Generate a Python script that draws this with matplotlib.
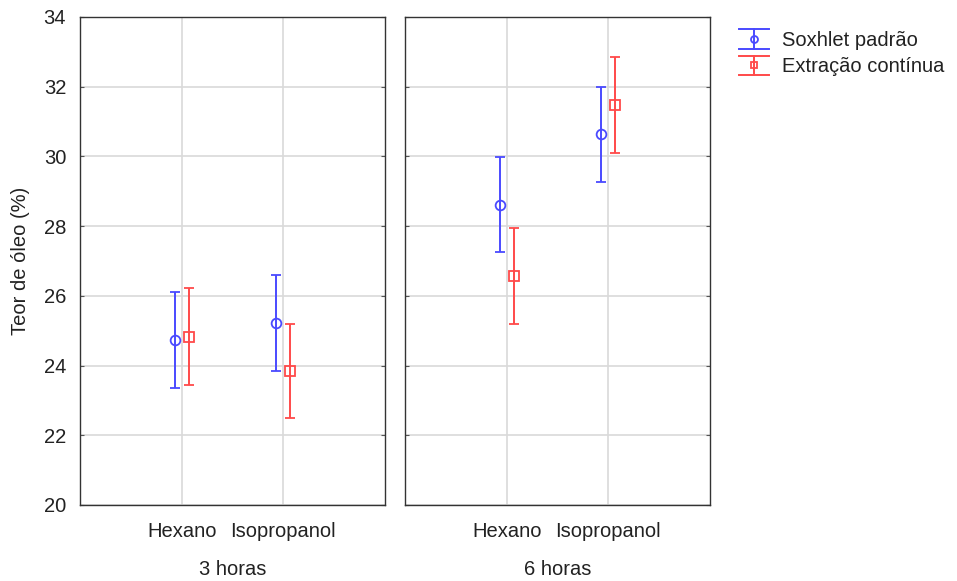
import matplotlib
matplotlib.use("Agg")
import matplotlib.pyplot as plt
from matplotlib.legend_handler import HandlerBase
from matplotlib.container import ErrorbarContainer
from matplotlib.lines import Line2D
import numpy as np

plt.rcParams['font.family'] = ['Liberation Sans', 'DejaVu Sans']

panels = ["3 horas", "6 horas"]
solvents = ["Hexano", "Isopropanol"]
series = ["Soxhlet padrão", "Extração contínua"]
# values[panel][solvent]
soxhlet_mean = [[24.73, 25.23], [28.62, 30.64]]
soxhlet_err = [[1.37, 1.38], [1.36, 1.36]]
continua_mean = [[24.83, 23.84], [26.58, 31.47]]
continua_err = [[1.40, 1.35], [1.38, 1.37]]

colors = ["#4a4aff", "#ff4a4a"]
markers = ["o", "s"]
offsets = [-0.07, 0.07]
FS = 14.5


class HandlerEB(HandlerBase):
    def create_artists(self, legend, orig_handle, xdescent, ydescent, width, height, fontsize, trans):
        line = orig_handle.lines[0]
        c = line.get_color()
        mk = line.get_marker()
        cx = width / 2 - xdescent
        cy = height / 2 - ydescent
        hh = height * 0.68
        arts = [
            Line2D([cx, cx], [cy - hh, cy + hh], color=c, lw=1.4),
            Line2D([-xdescent, width - xdescent], [cy - hh, cy - hh], color=c, lw=1.4),
            Line2D([-xdescent, width - xdescent], [cy + hh, cy + hh], color=c, lw=1.4),
            Line2D([cx], [cy], marker=mk, color=c, mfc='none', mec=c, ms=5, mew=1.3, ls='none'),
        ]
        for a in arts:
            a.set_transform(trans)
        return arts


fig = plt.figure(figsize=(9.57, 5.81), dpi=100)
W, H = 957, 581
axes = []
lefts = [80, 405]
for i in range(2):
    ax = fig.add_axes([lefts[i] / W, (H - 505) / H, 305 / W, 488 / H])
    axes.append(ax)

for i, ax in enumerate(axes):
    x = np.arange(len(solvents))
    handles = []
    for s, (m, e) in enumerate([(soxhlet_mean, soxhlet_err), (continua_mean, continua_err)]):
        h = ax.errorbar(x + offsets[s], m[i], yerr=e[i], fmt=markers[s], color=colors[s],
                        mfc='none', mec=colors[s], ms=7, mew=1.3, elinewidth=1.4,
                        capsize=3.7, capthick=1.4, label=series[s], zorder=3)
        handles.append(h)
    ax.set_xlim(-1, 2)
    ax.set_ylim(20, 34)
    ax.set_yticks(np.arange(20, 35, 2))
    ax.set_xticks(x)
    ax.set_xticklabels(solvents, fontsize=FS)
    ax.grid(True, color="#d9d9d9", linewidth=1.2)
    ax.set_axisbelow(True)
    ax.tick_params(axis='y', direction='in', length=3, width=0.8, color="#555555",
                   pad=10, labelsize=FS, labelcolor="#222222", left=True, right=True)
    ax.tick_params(axis='x', length=0, pad=12, labelsize=FS, labelcolor="#222222")
    for sp in ax.spines.values():
        sp.set_color("#333333")
        sp.set_linewidth(1.0)
    ax.set_xlabel(panels[i], fontsize=FS, labelpad=14, color="#222222")
    if i == 1:
        ax.set_yticklabels([])
    else:
        ax.set_ylabel("Teor de óleo (%)", fontsize=FS, labelpad=10, color="#222222")

leg = fig.legend(handles, series, loc='upper left', bbox_to_anchor=(739 / W, 1 - 31 / H),
                 frameon=False, fontsize=FS, handlelength=1.5, handletextpad=0.65,
                 labelspacing=0.37, borderaxespad=0, borderpad=0,
                 handler_map={ErrorbarContainer: HandlerEB()})
for t in leg.get_texts():
    t.set_color("#222222")

fig.savefig("out.png", dpi=100)
